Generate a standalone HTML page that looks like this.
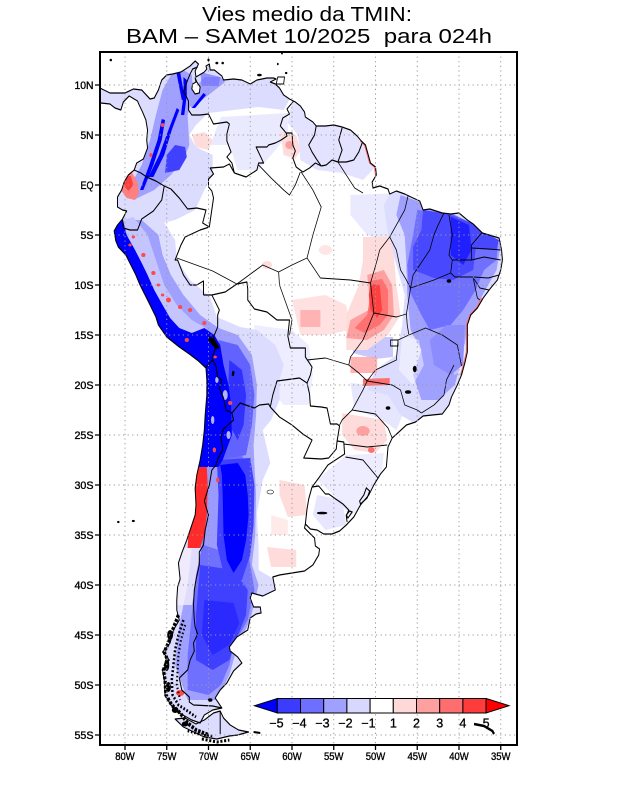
<!DOCTYPE html>
<html><head><meta charset="utf-8"><style>
html,body{margin:0;padding:0;background:#fff}
svg{display:block}
.b{fill:none;stroke:#000;stroke-width:0.12;stroke-linejoin:round}
.s{fill:none;stroke:#000;stroke-width:0.09;stroke-linejoin:round}
.ax{font-family:"Liberation Sans",sans-serif;font-size:11px;fill:#000;stroke:#000;stroke-width:0.35}
.cb{font-family:"Liberation Sans",sans-serif;font-size:12.5px;fill:#000;stroke:#000;stroke-width:0.3}
</style></head><body>
<svg xmlns="http://www.w3.org/2000/svg" width="618" height="800" viewBox="0 0 618 800">
<rect width="618" height="800" fill="#fff"/>
<text x="307" y="21" text-anchor="middle" font-family="Liberation Sans, sans-serif" font-size="20" textLength="210" lengthAdjust="spacingAndGlyphs">Vies medio da TMIN:</text>
<text x="309" y="43" text-anchor="middle" font-family="Liberation Sans, sans-serif" font-size="20" textLength="366" lengthAdjust="spacingAndGlyphs" xml:space="preserve">BAM – SAMet 10/2025  para 024h</text>
<defs>
<clipPath id="fr"><rect x="100" y="52" width="417" height="693"/></clipPath>
<clipPath id="land">
<polygon points="-84,9.6 -83,9.7 -81.8,9.2 -80,9.2 -79,9.6 -78,9.5 -77,8.6 -76.5,8.7 -76,9.5 -75.6,10.5 -75,11 -74.3,11.1 -73.3,11.3 -72.2,11.9 -71.6,12.4 -71.2,12.1 -71.6,11.4 -71.5,10.8 -71.1,11 -70.5,11.3 -70.2,11.6 -70.3,11.9 -69.9,12.1 -69.8,11.5 -69.3,11.5 -68.4,10.9 -68.2,10.5 -67,10.6 -66,10.5 -65,10.1 -64.2,10.5 -63,10.7 -62.2,10.7 -61.9,10.6 -62.6,10.3 -62,10.1 -61.5,9.7 -61,9 -60.3,8.6 -59.6,8.3 -59,7.9 -58.5,7.3 -58.4,6.8 -57.5,6.3 -57.1,5.9 -56,5.9 -55,6 -54,5.8 -53,5.5 -52.2,4.9 -51.7,4.4 -51.2,4 -51,3.4 -50.6,2.2 -50,1.8 -49.9,1 -50.4,0.3 -50.3,-0.3 -49.5,-0.1 -48.5,-0.4 -48.3,-0.9 -47.5,-0.6 -46.5,-0.9 -45.5,-1.3 -44.7,-1.6 -44.3,-2.5 -43.5,-2.4 -42,-2.8 -41,-2.9 -40,-2.8 -39,-3.5 -38.3,-3.9 -37.2,-4.8 -36,-5.1 -35.2,-5.3 -34.9,-6.5 -34.8,-7.5 -35,-8.5 -35.4,-9.5 -36.3,-10.4 -37.1,-11.3 -37.8,-12.3 -38.6,-13 -39,-14 -39,-15.5 -39,-16.7 -39.3,-17.8 -39.7,-19 -40.2,-20 -40.9,-21.2 -41.2,-22 -42,-22.9 -43.2,-23 -44.3,-23.1 -45.2,-23.7 -46.3,-24 -47.2,-24.7 -48,-25.3 -48.5,-26.2 -48.6,-27.2 -48.7,-28.2 -49.4,-28.9 -50.2,-30 -50.8,-31 -51.8,-32 -52.6,-33.2 -53.5,-34 -54.3,-34.6 -55.2,-34.9 -56.2,-34.9 -57,-34.5 -57.8,-34.4 -58.4,-33.9 -58.5,-34.3 -57.3,-35.3 -57.2,-36.1 -56.7,-36.4 -56.8,-37 -57.5,-38 -58.5,-38.6 -60,-38.8 -61.5,-39 -62.3,-39.2 -62,-40.5 -63.5,-41.1 -64.8,-40.8 -65,-41.3 -64.6,-42.2 -63.8,-42.2 -63.7,-42.8 -64.3,-42.9 -65,-43.3 -65.3,-44.5 -66.6,-45.2 -67.5,-46.2 -67.4,-46.6 -66.5,-47.2 -66,-47.8 -67,-48.6 -67.8,-49.8 -68.6,-50.5 -69.2,-51.3 -68.4,-52.3 -69.5,-52.5 -70.5,-53 -71,-53.8 -72,-53.5 -73.5,-52.8 -74.5,-52 -75.2,-51 -75.3,-49.5 -75.5,-48.5 -74.7,-47.5 -75.5,-46.7 -74.6,-45.8 -74.2,-44.5 -73.5,-43.5 -73.8,-42.5 -73.8,-41.5 -73.7,-40.2 -73.4,-39.4 -73.6,-37.8 -73.2,-36.8 -72.6,-35.5 -72,-34 -71.6,-33 -71.5,-32 -71.6,-30.3 -71.4,-29 -71,-27.5 -70.7,-26 -70.5,-24.5 -70.4,-23 -70.2,-21 -70.2,-19.5 -70.3,-18.3 -71.2,-17.6 -72.3,-16.9 -73.5,-16.2 -75,-15.2 -76,-14 -76.3,-13.2 -77,-12 -77.6,-11 -78.2,-10 -78.7,-9 -79.3,-8 -79.9,-7 -80.8,-6.2 -81.1,-5.6 -81.3,-4.6 -80.9,-4 -80.3,-3.4 -79.8,-2.6 -80.3,-2.5 -80.9,-2.2 -80.9,-1.2 -80.4,-0.5 -80.1,0.3 -79.6,1 -78.9,1.5 -78.6,2.2 -77.8,2.6 -77.3,3.7 -77.4,4.5 -77.3,5.5 -77.5,6.5 -77.9,7.3 -78.3,8 -78.5,8.4 -79.5,8.9 -80.2,8.3 -80.5,7.5 -81.2,7.7 -81.8,8.1 -82.9,8.2 -83.5,8.5 -84,9"/>
<polygon points="-68.6,-52.6 -68.2,-53.3 -67.4,-54 -66.4,-54.5 -65.2,-54.7 -66.5,-55 -67.5,-55.1 -69,-55.4 -70.5,-55.2 -71.5,-54.8 -73,-54.2 -74,-53.4 -72.8,-53.3 -71.5,-53.9 -70.5,-53.5 -69.4,-52.8"/>
</clipPath>
</defs>

<g clip-path="url(#fr)">
<g transform="matrix(8.35 0 0 -10 793 185)">
<g clip-path="url(#land)">
<polygon fill="#dcdcff" points="-85,12 -71,13 -62,11.5 -60,9 -61,7.5 -64,7.8 -67,7.5 -70,7.2 -71.5,6 -72.3,5 -71.5,3.8 -69.5,3 -69.5,1 -70.5,-0.5 -71.6,-2.5 -74,-3.5 -76.5,-4 -79,-3.5 -82,-3 -85,8"/>
<polygon fill="#dcdcff" opacity="0.6" points="-68.5,6.8 -60.5,7.2 -60.5,5 -62,3.5 -64,1.5 -66.5,1.5 -67.5,4 -69.8,4"/>
<polygon fill="#dcdcff" opacity="0.8" points="-60,8.5 -57,6.5 -54,6 -51.5,4.5 -50,1.8 -51.5,0.5 -54,1.2 -57,1.5 -59,2.5 -59.3,5 -60.5,6.2"/>
<polygon fill="#dcdcff" points="-82,-3 -78,-2.5 -75.5,-3.5 -74,-5.5 -73.8,-7.5 -72.2,-9.5 -69.8,-11.2 -69,-13.2 -66.2,-14.2 -64.2,-14.5 -62,-16 -61,-18 -61.5,-19.5 -61.5,-21.5 -62.5,-23.5 -63.5,-24.5 -62.6,-27.8 -63.5,-29.5 -64.2,-32.8 -64,-36.2 -64,-38.5 -62,-39.5 -62,-42 -63,-46 -65,-50 -64,-56 -80,-56 -80,-20"/>
<polygon fill="#dcdcff" opacity="0.5" points="-64.5,-14 -60,-14.5 -58,-16 -57.5,-19 -58,-22 -61,-22 -63,-20 -64.5,-17"/>
<polygon fill="#dcdcff" opacity="0.6" points="-53,-1 -47,-0.8 -44.3,-2 -44.3,-6.5 -48,-6 -51,-5 -53,-3"/>
<polygon fill="#dcdcff" points="-48,-0.5 -40,-2 -34,-5 -34,-8 -37,-12 -38.5,-15 -38.5,-18 -40,-20.5 -42,-23 -45,-24 -47,-23 -48.5,-21 -51,-20.5 -50,-18.5 -47.5,-17 -46.8,-14 -46.5,-11 -47.5,-8 -48.5,-5 -49,-2"/>
<polygon fill="#dcdcff" opacity="0.7" points="-53,-19.8 -48,-20.2 -46.5,-22.5 -47.5,-24.5 -49.5,-23.3 -52.5,-22.5"/>
<polygon fill="#dcdcff" opacity="0.5" points="-53.5,-27 -49,-26.8 -49.3,-29 -51,-31.5 -53,-33.2 -55,-31 -57,-29.5"/>
<polygon fill="#dcdcff" opacity="0.7" points="-57,-31 -54,-31.5 -53.5,-34 -56,-34.5 -57.5,-33"/>
<polygon fill="#c8c8ff" points="-52.7,-15.2 -47.9,-15.2 -47.9,-17.2 -50,-17.4 -52.7,-16.8"/>
<polygon fill="#ffdcdc" points="-72,5 -70.5,5.3 -69.5,4.5 -70,3.5 -71.5,3.8"/>
<polygon fill="#ffdcdc" points="-61.4,5.3 -59.5,5 -59,3.5 -59.6,2.6 -61,3"/>
<ellipse cx="-60.3" cy="4" rx="0.5" ry="0.4" fill="#ffa0a0"/>
<polygon fill="#ffdcdc" opacity="0.85" points="-60,-11.5 -56,-11 -53.5,-12 -53,-14.5 -56,-15 -59,-15"/>
<polygon fill="#ffa0a0" opacity="0.7" points="-59,-12.5 -56.6,-12.5 -56.6,-14.2 -59,-14.2"/>
<polygon fill="#ffdcdc" points="-51.5,-5.2 -48.3,-5.2 -47.8,-7 -47.5,-10 -47,-13 -48.5,-15 -51,-16.5 -53.5,-16.5 -53.5,-13 -52,-10 -51.5,-7.5"/>
<polygon fill="#ffa0a0" points="-51,-9 -49,-8.5 -48,-10 -47.8,-13 -49,-14.5 -51,-15.5 -53.5,-15.3 -53,-13.5 -50.8,-12.5 -50.8,-10.5"/>
<polygon fill="#ff7070" points="-50.7,-9.6 -49.2,-9.4 -48.5,-10.5 -48.5,-13 -49.5,-14 -51.3,-14.8 -52.5,-14.3 -51,-13 -50.6,-11"/>
<polygon fill="#ff4040" points="-50.6,-9.9 -49.5,-10 -49.2,-12.5 -49.8,-13.3 -50.6,-12.5 -50.8,-11"/>
<polygon fill="#ffa0a0" opacity="0.8" points="-53,-17.2 -49.8,-17.2 -49.8,-18.8 -53,-18.8"/>
<polygon fill="#ff7070" points="-51.5,-19.4 -48.3,-19.3 -48.3,-20 -51.5,-20.1"/>
<polygon fill="#ffdcdc" points="-54,-22.8 -49,-23.5 -48.6,-25.5 -50,-26.8 -52.5,-26.5 -54,-25"/>
<ellipse cx="-51.5" cy="-24.6" rx="0.8" ry="0.5" fill="#ffa0a0"/>
<ellipse cx="-50.5" cy="-26.5" rx="0.4" ry="0.3" fill="#ff7070"/>
<polygon fill="#ffdcdc" points="-61.5,-29.5 -58.5,-30 -58.2,-33 -60.5,-33.2 -61.5,-31"/>
<polygon fill="#ffdcdc" points="-63,-36.2 -59.5,-36.5 -59.5,-38.2 -62.5,-38.2"/>
<polygon fill="#ffdcdc" opacity="0.6" points="-62.5,-33 -60.5,-33.5 -60.5,-35 -62.5,-35"/>
<ellipse cx="-63" cy="-8" rx="0.6" ry="0.4" fill="#ffdcdc"/>
<ellipse cx="-56" cy="-6.5" rx="0.8" ry="0.5" fill="#ffdcdc" opacity="0.7"/>
<polygon fill="#a0a0ff" points="-79,-1.5 -76.5,-0.5 -74.5,1 -73,2.5 -72.3,4 -72.5,7 -71.8,9 -72,11 -73,11.5 -74.5,11 -75.5,9.5 -76.3,7 -77,4.5 -78,2 -79,0.5"/>
<polygon fill="#a0a0ff" points="-72,7.7 -70,9 -68,10.3 -68.6,10.8 -70.5,10.8 -71.8,9.5 -72.5,8.2"/>
<polygon fill="#7070ff" opacity="0.7" points="-71,11.3 -68.6,10.8 -68.8,9.9 -70.8,9.9"/>
<polygon fill="#a0a0ff" points="-80.5,-3.5 -78,-3.5 -76,-5 -75.5,-7 -74.5,-9 -73,-11 -71,-13 -68.8,-14.3 -66.5,-15 -64.8,-17 -64.2,-20 -64.3,-23 -64.6,-26 -64.5,-28 -64.3,-31 -64.4,-35 -64.8,-38 -64,-40 -65,-43.5 -66.5,-46 -67.5,-49 -69,-51.5 -72.5,-51.5 -74,-48 -73.5,-44 -72.5,-40 -72,-36.3 -71.5,-28 -71,-18 -78,-10"/>
<polygon fill="#a0a0ff" points="-47,-1 -42,-2.5 -37,-4.5 -35,-6 -35.5,-8.5 -37.5,-11.5 -39,-14 -39.5,-17 -40.5,-20 -42.5,-21.5 -44.5,-21.5 -45.5,-19 -44.5,-16.5 -45.8,-14.5 -46.2,-11 -46.3,-8 -46.5,-5 -47.5,-3"/>
<polygon fill="#ffffff" opacity="0.45" points="-46.8,-15 -44.8,-15.5 -44.2,-18 -45.5,-20 -47.2,-18.5"/>
<polygon fill="#ffffff" opacity="0.4" points="-40.5,-15.5 -39.2,-16 -39.5,-18.5 -40.6,-19"/>
<polygon fill="#f6f0fb" opacity="0.75" points="-75,-36.3 -70.9,-36.3 -71.3,-39 -72,-42 -75,-42"/>
<polygon fill="#c4c4ff" points="-80.3,-3.5 -79,-3.2 -77.3,-5 -76.3,-7.5 -75.3,-10 -73.8,-12 -72,-13.5 -70.3,-14.3 -70,-14.8 -71.5,-15.3 -73,-14.8 -74.6,-13.3 -75.5,-12 -76.5,-10.5 -77.3,-9 -78,-7.8 -78.8,-6.5 -79.8,-5"/>
<polygon fill="#7070ff" points="-45,-2.5 -41,-2.8 -38,-4 -35.3,-5.5 -35.5,-7.5 -37,-8.5 -38,-10.5 -39.5,-12.5 -41,-14 -43.5,-14.5 -44.5,-13 -46,-10.5 -46.2,-8 -45.5,-5"/>
<polygon fill="#8c8cff" points="-41.5,-14 -39.3,-14 -39.5,-18 -41,-19 -43,-18 -43.5,-15.5"/>
<polygon fill="#7070ff" points="-70.2,-28 -68.8,-27 -66,-27 -65,-29 -64.8,-33 -65.2,-37 -64.5,-40.5 -65.3,-43.5 -67,-46 -67.5,-48 -68.5,-50 -70,-51 -72.5,-50.5 -72.5,-47 -72,-43 -71.5,-39 -71,-37 -70.3,-34"/>
<polygon fill="#6262ff" points="-68.8,-15.5 -66.5,-16 -65,-18 -64.5,-21 -64.8,-24 -65.5,-27 -68.6,-27.5 -67.7,-25 -67.8,-22 -68.4,-20 -68.6,-18"/>
<polygon fill="#9a9aff" points="-70.3,-28 -68.7,-28 -68.5,-31 -68.3,-35 -68.8,-36.5 -70.6,-36 -70.2,-33 -70.1,-30"/>
<polygon fill="#4848ff" points="-44.3,-2.5 -41.3,-2.9 -38.5,-3.8 -36,-5.2 -35.2,-5.5 -35.5,-6.5 -38,-6.4 -38.3,-8.5 -40.7,-9.5 -43,-9.3 -45.5,-8.5 -45.5,-6.2 -44.5,-4.5"/>
<polygon fill="#4040ff" points="-71,-38 -67,-38.5 -65.3,-40.5 -65.5,-43 -66.7,-45.5 -67.5,-47.5 -69.5,-48.5 -71.5,-47.5 -71.5,-43 -71.2,-40"/>
<polygon fill="#3030ff" points="-67.5,-17.5 -66,-18.5 -65.5,-21 -65.8,-24 -66.5,-25.5 -67.5,-24 -67.6,-19.5"/>
<polygon fill="#4040ff" points="-69,-27.5 -65,-27.3 -64.5,-30 -64.6,-34 -65,-37 -66,-39.5 -68,-39.5 -69,-36 -68.8,-31"/>
<polygon fill="#4040ff" points="-75.2,1.2 -73.5,1.5 -72.6,2.8 -72.8,3.8 -74,4 -75,3"/>
<polygon fill="#0000ff" points="-82,-3.3 -80.3,-3.3 -79.8,-5 -78.8,-6.5 -78,-7.8 -77.3,-9 -76.5,-10.5 -75.5,-12 -74.6,-13.3 -73.5,-14.3 -72,-14.8 -70.5,-14.3 -69.3,-15 -68.6,-16 -68.2,-18 -67.6,-20 -67.3,-22 -67.2,-25 -68.3,-27.5 -68.8,-28.2 -71.5,-28.2 -71.5,-20 -72,-18 -74,-17 -77,-13 -80,-8 -82,-6"/>
<polygon fill="#0000ff" points="-68.6,-28 -66.5,-27.8 -65.6,-29 -65.3,-31 -65.2,-33 -65.5,-35.5 -66,-37.5 -67,-38.8 -67.8,-37.5 -68.2,-35 -68.3,-31 -68.4,-29"/>
<polygon fill="#2a2aff" points="-70.5,-41.5 -67,-41.8 -66.3,-43.8 -67.5,-46 -69.5,-47 -70.8,-45"/>
<polygon fill="#2020ff" points="-41,-3.2 -38.8,-4 -38.5,-6.5 -39.5,-8 -41,-7"/>
<polygon fill="#0000ff" points="-78.2,-0.5 -77.8,-0.5 -76.6,2 -75.6,4.5 -75.2,6.5 -75.6,6.6 -76.1,4.5 -77.1,2"/>
<polygon fill="#0000ff" points="-77.2,0.8 -76.6,0.8 -75.3,3 -74.4,5.5 -73.5,7.5 -73.8,7.7 -74.8,5.5 -75.9,3"/>
<polygon fill="#0000ff" points="-73.3,7 -72.9,7 -72.6,9 -72.6,10.5 -73,10.8 -73,9"/>
<polygon fill="#0000ff" points="-73.9,11.5 -73.4,11.3 -72.8,8.5 -73.2,8.5"/>
<polygon fill="#0000ff" points="-72,7.7 -71.6,7.7 -70.3,9 -70.6,9.2"/>
<g fill="#ffffff" opacity="0.7">
<ellipse cx="-68" cy="-21" rx="0.3" ry="0.5"/><ellipse cx="-69.5" cy="-23.5" rx="0.2" ry="0.4"/>
<ellipse cx="-67.6" cy="-25" rx="0.25" ry="0.4"/><ellipse cx="-69" cy="-19.5" rx="0.2" ry="0.3"/>
</g>
<polygon fill="#ff2a2a" points="-72,-28.2 -70.2,-28.2 -70.1,-30 -70.2,-33 -70.5,-35 -71,-36.3 -72.5,-36.3"/>
<polygon fill="#ff8080" points="-80.5,1.3 -79.2,1.3 -78.5,0.3 -78.3,-0.8 -78.8,-1.5 -79.8,-1.3 -80.5,-0.5"/>
<polygon fill="#ff4040" points="-80.2,0.9 -79.3,0.9 -79,0 -79.6,-0.6 -80.2,0"/>
<g fill="#ff4848">
<ellipse cx="-79" cy="-5.2" rx="0.2" ry="0.15"/><ellipse cx="-79.4" cy="-6" rx="0.2" ry="0.15"/>
<ellipse cx="-77.8" cy="-7" rx="0.25" ry="0.2"/><ellipse cx="-76.6" cy="-8.8" rx="0.25" ry="0.2"/>
<ellipse cx="-74.8" cy="-11.5" rx="0.3" ry="0.25"/><ellipse cx="-73.4" cy="-12.2" rx="0.25" ry="0.2"/>
<ellipse cx="-72.2" cy="-12.5" rx="0.25" ry="0.2"/><ellipse cx="-72.6" cy="-15.5" rx="0.25" ry="0.2"/>
<ellipse cx="-69.2" cy="-17.2" rx="0.2" ry="0.15"/><ellipse cx="-67.4" cy="-21.8" rx="0.25" ry="0.2"/>
<ellipse cx="-76" cy="-10" rx="0.2" ry="0.15"/><ellipse cx="-75.5" cy="-11" rx="0.2" ry="0.15"/>
<ellipse cx="-70.5" cy="-13.8" rx="0.25" ry="0.2"/><ellipse cx="-69.3" cy="-26.5" rx="0.2" ry="0.25"/>
<ellipse cx="-68.9" cy="-29.5" rx="0.2" ry="0.25"/><ellipse cx="-73.4" cy="-50.8" rx="0.5" ry="0.3"/>
<ellipse cx="-76.9" cy="3" rx="0.2" ry="0.2"/><ellipse cx="-75.5" cy="6" rx="0.2" ry="0.2"/>
</g>
<polyline fill="none" stroke="#ff7070" stroke-width="0.15" points="-37.3,-11.3 -37.9,-12.3 -38.7,-13 -39.1,-14 -39.1,-16.7 -39.4,-17.8 -39.8,-19"/>
<polyline fill="none" stroke="#ff7070" stroke-width="0.15" points="-51.8,4.4 -51.3,4 -51.1,3.4 -50.7,2.2 -50.1,1.8 -50,1"/>
</g>

<g class="b">
<polygon points="-84,9.6 -83,9.7 -81.8,9.2 -80,9.2 -79,9.6 -78,9.5 -77,8.6 -76.5,8.7 -76,9.5 -75.6,10.5 -75,11 -74.3,11.1 -73.3,11.3 -72.2,11.9 -71.6,12.4 -71.2,12.1 -71.6,11.4 -71.5,10.8 -71.1,11 -70.5,11.3 -70.2,11.6 -70.3,11.9 -69.9,12.1 -69.8,11.5 -69.3,11.5 -68.4,10.9 -68.2,10.5 -67,10.6 -66,10.5 -65,10.1 -64.2,10.5 -63,10.7 -62.2,10.7 -61.9,10.6 -62.6,10.3 -62,10.1 -61.5,9.7 -61,9 -60.3,8.6 -59.6,8.3 -59,7.9 -58.5,7.3 -58.4,6.8 -57.5,6.3 -57.1,5.9 -56,5.9 -55,6 -54,5.8 -53,5.5 -52.2,4.9 -51.7,4.4 -51.2,4 -51,3.4 -50.6,2.2 -50,1.8 -49.9,1 -50.4,0.3 -50.3,-0.3 -49.5,-0.1 -48.5,-0.4 -48.3,-0.9 -47.5,-0.6 -46.5,-0.9 -45.5,-1.3 -44.7,-1.6 -44.3,-2.5 -43.5,-2.4 -42,-2.8 -41,-2.9 -40,-2.8 -39,-3.5 -38.3,-3.9 -37.2,-4.8 -36,-5.1 -35.2,-5.3 -34.9,-6.5 -34.8,-7.5 -35,-8.5 -35.4,-9.5 -36.3,-10.4 -37.1,-11.3 -37.8,-12.3 -38.6,-13 -39,-14 -39,-15.5 -39,-16.7 -39.3,-17.8 -39.7,-19 -40.2,-20 -40.9,-21.2 -41.2,-22 -42,-22.9 -43.2,-23 -44.3,-23.1 -45.2,-23.7 -46.3,-24 -47.2,-24.7 -48,-25.3 -48.5,-26.2 -48.6,-27.2 -48.7,-28.2 -49.4,-28.9 -50.2,-30 -50.8,-31 -51.8,-32 -52.6,-33.2 -53.5,-34 -54.3,-34.6 -55.2,-34.9 -56.2,-34.9 -57,-34.5 -57.8,-34.4 -58.4,-33.9 -58.5,-34.3 -57.3,-35.3 -57.2,-36.1 -56.7,-36.4 -56.8,-37 -57.5,-38 -58.5,-38.6 -60,-38.8 -61.5,-39 -62.3,-39.2 -62,-40.5 -63.5,-41.1 -64.8,-40.8 -65,-41.3 -64.6,-42.2 -63.8,-42.2 -63.7,-42.8 -64.3,-42.9 -65,-43.3 -65.3,-44.5 -66.6,-45.2 -67.5,-46.2 -67.4,-46.6 -66.5,-47.2 -66,-47.8 -67,-48.6 -67.8,-49.8 -68.6,-50.5 -69.2,-51.3 -68.4,-52.3 -69.5,-52.5 -70.5,-53 -71,-53.8 -72,-53.5 -73.5,-52.8 -74.5,-52 -75.2,-51 -75.3,-49.5 -75.5,-48.5 -74.7,-47.5 -75.5,-46.7 -74.6,-45.8 -74.2,-44.5 -73.5,-43.5 -73.8,-42.5 -73.8,-41.5 -73.7,-40.2 -73.4,-39.4 -73.6,-37.8 -73.2,-36.8 -72.6,-35.5 -72,-34 -71.6,-33 -71.5,-32 -71.6,-30.3 -71.4,-29 -71,-27.5 -70.7,-26 -70.5,-24.5 -70.4,-23 -70.2,-21 -70.2,-19.5 -70.3,-18.3 -71.2,-17.6 -72.3,-16.9 -73.5,-16.2 -75,-15.2 -76,-14 -76.3,-13.2 -77,-12 -77.6,-11 -78.2,-10 -78.7,-9 -79.3,-8 -79.9,-7 -80.8,-6.2 -81.1,-5.6 -81.3,-4.6 -80.9,-4 -80.3,-3.4 -79.8,-2.6 -80.3,-2.5 -80.9,-2.2 -80.9,-1.2 -80.4,-0.5 -80.1,0.3 -79.6,1 -78.9,1.5 -78.6,2.2 -77.8,2.6 -77.3,3.7 -77.4,4.5 -77.3,5.5 -77.5,6.5 -77.9,7.3 -78.3,8 -78.5,8.4 -79.5,8.9 -80.2,8.3 -80.5,7.5 -81.2,7.7 -81.8,8.1 -82.9,8.2 -83.5,8.5 -84,9"/>
<polygon points="-68.6,-52.6 -68.2,-53.3 -67.4,-54 -66.4,-54.5 -65.2,-54.7 -66.5,-55 -67.5,-55.1 -69,-55.4 -70.5,-55.2 -71.5,-54.8 -73,-54.2 -74,-53.4 -72.8,-53.3 -71.5,-53.9 -70.5,-53.5 -69.4,-52.8"/>
<polygon fill="#fff" points="-71.6,10.7 -71.5,10.3 -71.9,10.1 -72,9.6 -71.6,9.1 -71.1,9.2 -71,9.8 -71.4,10.3"/>
</g>
<!-- fjord texture -->
<g fill="none" stroke="#000">
<polyline stroke-width="0.4" stroke-dasharray="0.3 0.15" points="-73.6,-43 -74.3,-44.5 -74.8,-45.8 -75.3,-46.7 -74.9,-47.5 -75.4,-48.5 -75.2,-49.5 -75.1,-51 -74.4,-52 -73.4,-52.8 -72.5,-53.8 -71.5,-54.5 -70,-55"/>
<polyline stroke-width="0.3" stroke-dasharray="0.2 0.2" points="-73,-43.5 -73.6,-45 -74,-46.5 -74.2,-48 -74.4,-49.5 -74.3,-51 -73.6,-52 -72.5,-52.6 -71.5,-53.2"/>
<polyline stroke-width="0.25" stroke-dasharray="0.15 0.25" points="-72.8,-44 -73.3,-45.5 -73.6,-47 -73.7,-48.5 -73.8,-50 -73.4,-51.5"/>
<polyline stroke-width="0.3" stroke-dasharray="0.25 0.2" points="-70.8,-55.4 -69,-55.7 -67.5,-55.5"/>
<polyline stroke-width="0.25" stroke-dasharray="0.2 0.2" points="-72.5,-54.6 -70.8,-55 -69.5,-55.1"/>
</g>
<g fill="#000">
<ellipse cx="-74.6" cy="-45" rx="0.35" ry="0.5"/>
<ellipse cx="-75" cy="-48" rx="0.3" ry="0.6"/>
<ellipse cx="-74.8" cy="-50.2" rx="0.3" ry="0.5"/>
<ellipse cx="-74" cy="-52.5" rx="0.4" ry="0.3"/>
<ellipse cx="-72.8" cy="-53.9" rx="0.4" ry="0.25"/>
</g>
<g fill="#000" stroke="#000" stroke-width="0.06">
<polygon points="-69.9,-15.2 -69.3,-15.4 -68.7,-16.3 -69.1,-16.4 -69.6,-15.9 -70,-15.5"/>
<polygon points="-67.1,-18.6 -66.9,-18.7 -67,-19.1 -67.2,-19"/>
<polygon fill="none" stroke-width="0.12" points="-51.1,-30.3 -50.7,-30.6 -51,-31.3 -51.8,-31.9 -51.9,-31.6 -51.4,-31"/>
<polygon fill="none" stroke-width="0.12" points="-53.1,-32.6 -52.8,-32.7 -53.3,-33.3 -53.5,-33"/>
<ellipse cx="-45.3" cy="-18.4" rx="0.2" ry="0.3"/>
<ellipse cx="-46.1" cy="-20.7" rx="0.35" ry="0.15"/>
<ellipse cx="-48.5" cy="-22.3" rx="0.25" ry="0.15"/>
<ellipse cx="-41.2" cy="-9.6" rx="0.25" ry="0.15"/>
<ellipse cx="-56.4" cy="-32.8" rx="0.6" ry="0.1"/>
<ellipse cx="-69.8" cy="-51.5" rx="0.25" ry="0.15"/>
<ellipse cx="-81.7" cy="12.5" rx="0.12" ry="0.1"/>
<ellipse cx="-70" cy="12.5" rx="0.1" ry="0.12"/>
<ellipse cx="-69" cy="12.2" rx="0.15" ry="0.1"/>
<ellipse cx="-68.3" cy="12.2" rx="0.12" ry="0.1"/>
<ellipse cx="-63.9" cy="11" rx="0.25" ry="0.1"/>
<ellipse cx="-60.7" cy="11.2" rx="0.12" ry="0.08"/>
<ellipse cx="-61.7" cy="12.1" rx="0.08" ry="0.1"/>
<ellipse cx="-61.2" cy="13.2" rx="0.08" ry="0.12"/>
<ellipse cx="-79" cy="-33.6" rx="0.15" ry="0.08"/>
<ellipse cx="-80.8" cy="-33.7" rx="0.12" ry="0.08"/>
<ellipse cx="-62.6" cy="-30.7" rx="0.4" ry="0.2" fill="none"/>
</g>
<polygon fill="#fff" stroke="#000" stroke-width="0.1" points="-61.7,10.8 -60.9,10.8 -61,10.1 -61.9,10.1"/>
<polyline fill="none" stroke="#000" stroke-width="0.25" points="-38.2,-53.9 -37,-54.1 -36,-54.6 -35.8,-54.9"/>
<polyline fill="none" stroke="#000" stroke-width="0.2" points="-64.6,-54.7 -63.8,-54.8"/>
<g class="b">
<polyline points="-71.3,11.8 -71.9,11.6 -72.2,11.1 -72.5,10.5 -73,9.3 -72.8,9.1 -72.4,8.4 -72.4,7.5 -72,7 -71,7 -70,7.1 -69.4,6.1 -67.8,6.3 -67.5,6.1 -67.8,5.1 -67.8,4.4 -67.3,3.3 -67.8,2.8 -67.2,2.2 -66.9,1.2"/>
<polyline points="-66.9,1.2 -65.5,0.8 -64.2,1.5 -64,2.2 -63.4,2.2 -64.3,3.8 -63,3.8 -62.8,4 -62,4.2 -61.3,4.5 -60.6,4.9 -60.7,5.2"/>
<polyline points="-60.7,5.2 -61.4,5.9 -61.1,6.7 -60.3,7.1 -60.6,7.6 -59.8,8.4"/>
<polyline points="-60.7,5.2 -60,5.2 -59.9,4 -59.6,3.4 -59.9,2.7 -59.5,1.8 -58.7,1.3 -57.9,1.7 -57.2,2.2 -56.5,1.9"/>
<polyline points="-57.1,5.9 -57.3,5 -58,4 -57.6,3.3 -57,2.5 -56.5,1.9"/>
<polyline points="-56.5,1.9 -55.9,2 -55.2,2.5 -54.5,2.3"/>
<polyline points="-54,5.7 -54.4,4.5 -54,3.5 -54.5,2.3"/>
<polyline points="-54.5,2.3 -53.5,2.3 -52.6,2.5 -52,3.3 -51.6,4.2"/>
<polyline points="-66.9,1.2 -67.5,2.1 -68.2,1.8 -69.8,1.7 -69.4,1.1 -70,0.6 -70,-0.2 -69.6,-0.6 -69.4,-1.3 -69.9,-4.2"/>
<polyline points="-69.9,-4.2 -70.7,-3.8 -70.3,-2.5 -71.4,-2.3 -72.5,-2.4 -73.5,-1.3 -74.5,-0.4 -75.3,-0.1"/>
<polyline points="-75.3,-0.1 -76.3,0.4 -77.4,0.8 -78.1,1.2 -78.9,1.5"/>
<polyline points="-75.3,-0.1 -75.6,-1.5 -76.6,-2.6 -78,-3.4 -78.5,-4.5 -79.4,-4.5 -80.2,-4.3 -80.3,-3.4"/>
<polyline points="-69.9,-4.2 -71,-4.5 -72.8,-5.2 -73.3,-6 -74,-7.5 -73.7,-7.5 -73,-9 -72.2,-10 -71.4,-10 -70.6,-9.6 -70.6,-11"/>
<polyline points="-70.6,-11 -69.6,-11 -68.7,-12.5 -68.9,-13 -68.9,-14.2 -69.4,-15.2 -69.1,-16.2 -69.6,-17.3 -69.5,-17.5"/>
<polyline points="-70.4,-18.3 -69.5,-17.5"/>
<polyline points="-69.5,-17.5 -69.1,-18.1 -68.9,-19.2 -68.4,-19.5 -68.7,-20.3 -68.2,-21.3 -67.9,-22.5 -67.2,-22.8"/>
<polyline points="-67.2,-22.8 -66.2,-21.8 -65.2,-22.1 -64.5,-22.3 -63.9,-22 -62.8,-21.9 -62.6,-22.2"/>
<polyline points="-62.6,-22.2 -62.3,-21 -61.8,-19.6 -59.1,-19.3 -58.2,-19.8"/>
<polyline points="-58.2,-19.8 -57.8,-19 -57.6,-18.2 -58.4,-17.2 -58.4,-16.3 -60.2,-16.3 -60.5,-15.1 -60.3,-13.5 -61.8,-13.5 -63,-12.7 -64.5,-12.4 -65.3,-11.5 -65.3,-10.4 -65.4,-9.7 -66.6,-9.9 -68,-10.7 -69.6,-11"/>
<polyline points="-58.2,-19.8 -57.9,-20.9 -57.8,-22.1 -56.5,-22.2 -55.8,-22.3 -55.4,-23.9 -54.6,-23.9 -54.3,-24.1 -54.6,-25.6"/>
<polyline points="-62.6,-22.2 -61.5,-23.2 -60,-24 -58.7,-24.9 -57.6,-25.5 -58.6,-27.3 -56.5,-27.4 -55.6,-27.3 -54.7,-26.4 -54.6,-25.6"/>
<polyline points="-54.6,-25.6 -53.8,-25.7 -53.7,-26.9 -55.7,-28 -56.8,-29.3 -57.6,-30.2"/>
<polyline points="-57.6,-30.2 -58,-31.4 -58.2,-32.4 -58.4,-33.9"/>
<polyline points="-57.6,-30.2 -56.8,-30.1 -56,-30.9 -55.6,-30.9 -54.6,-31.5 -53.9,-31.9 -53.2,-32.5 -53.5,-33.1 -53.4,-33.7"/>
<polyline points="-67.2,-22.8 -67,-23.5 -68.2,-24.4 -68.5,-25.2 -68.3,-26.5 -68.8,-27.2 -69.1,-28 -69.6,-28.5 -69.9,-30 -70.5,-31.6 -70,-33 -70.4,-34.5 -70.6,-36 -71.1,-36.7 -71.1,-38 -71.5,-39.5 -71.7,-40.5 -71.8,-42 -71.7,-43.5 -71.6,-44.2 -71.3,-44.9 -71.8,-45.8 -71.7,-46.6 -72.2,-47.5 -72.5,-48.5 -73.5,-49.3 -73.2,-50.5 -72.3,-51.2 -72.3,-51.7 -71.8,-52 -69.5,-52.1 -68.4,-52.3"/>
<polyline points="-68.6,-52.6 -68.6,-54.9"/>
</g>
<g class="s">
<polyline points="-64,2 -62.5,0.7 -61,-0.5 -60.3,-1 -59.6,0 -59,1.3"/>
<polyline points="-58.9,1.3 -57.5,-0.5 -56.5,-2.2 -57.5,-5 -58.2,-7.3"/>
<polyline points="-58.2,-7.3 -60,-8 -61.6,-8.7 -63.5,-8 -66.6,-9.9"/>
<polyline points="-73.8,-7.3 -69.5,-8.6 -66.6,-9.9"/>
<polyline points="-61.6,-8.7 -61.5,-10 -60,-13.5 -60.3,-15"/>
<polyline points="-58.2,-7.3 -56.6,-9.3 -53,-9.5 -50.6,-9.8"/>
<polyline points="-54.5,2.3 -53.5,1 -52.5,-0.3 -51.5,-0.8"/>
<polyline points="-50.6,-9.8 -49.8,-7.5 -49.5,-6.5 -48.3,-5.2 -47.5,-4 -46.5,-2.5 -46.1,-1.1"/>
<polyline points="-48.3,-5.2 -47.5,-6.5 -47,-8.5 -46.3,-9.5 -45.8,-10.3"/>
<polyline points="-41.8,-2.8 -42.5,-4 -43,-5 -43.5,-6.5 -45.5,-9 -45.8,-10.3"/>
<polyline points="-41.2,-3 -40.8,-5 -41.2,-7 -40.8,-7.5"/>
<polyline points="-37.3,-4.8 -38.5,-6 -38.5,-7.5"/>
<polyline points="-38.5,-6.3 -36.5,-6.4 -35,-6.5"/>
<polyline points="-40.8,-7.5 -38.5,-7.5 -37,-7.2 -35,-7.5"/>
<polyline points="-45.8,-10.3 -43,-9.5 -41,-8.8 -40.5,-9.2 -38.3,-9.2"/>
<polyline points="-41,-8.8 -40.8,-7.5"/>
<polyline points="-38.2,-9.2 -36.5,-9.3 -35.2,-9"/>
<polyline points="-38.2,-9.4 -37.5,-10.3 -36.4,-10.5"/>
<polyline points="-38.3,-9.3 -37.8,-11.3 -37.5,-11.5"/>
<polyline points="-50.6,-9.8 -50.2,-12.8"/>
<polyline points="-50.2,-12.8 -47.5,-13.2 -46.3,-12.9 -45.8,-10.3"/>
<polyline points="-46.3,-12.9 -46.2,-14 -46,-15"/>
<polyline points="-50.2,-12.8 -51.5,-15.5 -53,-17.2 -53.2,-18"/>
<polyline points="-58.2,-17.5 -56,-17.3 -53.2,-18 -52,-18.8 -51,-19.6"/>
<polyline points="-51,-19.6 -51.5,-20.5 -52.8,-22.5 -54,-23.5 -54.3,-24"/>
<polyline points="-51,-19.6 -48,-20 -47,-20.5 -46.5,-22 -45,-22.5 -44.5,-22.8"/>
<polyline points="-52.8,-22.5 -50,-22.9 -48.5,-24.3 -48,-25.3"/>
<polyline points="-53.8,-25.9 -51,-26.2 -48.6,-26"/>
<polyline points="-53.6,-27.2 -51.5,-27.5 -49.7,-29.3"/>
<polyline points="-51,-19.6 -50,-18.5 -47.5,-17.5 -47.3,-15.5 -46,-15"/>
<polyline points="-46,-15 -44,-14.3 -42,-15 -40.2,-16 -39.7,-18.1"/>
<polyline points="-40.6,-18 -41.5,-19.5 -41.8,-21"/>
<polyline points="-41.8,-21 -43,-22 -44.5,-22.8"/>
<polygon points="-48.2,-15.5 -47.3,-15.5 -47.3,-16.1 -48.2,-16.1"/>
</g>
</g>
</g>

<g stroke="#9a9a9a" stroke-width="1" stroke-dasharray="1.2 3.4" fill="none">
<path d="M125 52V745M166.75 52V745M208.5 52V745M250.25 52V745M292 52V745M333.75 52V745M375.5 52V745M417.25 52V745M459 52V745M500.75 52V745"/>
<path d="M100 85H517M100 135H517M100 185H517M100 235H517M100 285H517M100 335H517M100 385H517M100 435H517M100 485H517M100 535H517M100 585H517M100 635H517M100 685H517M100 735H517"/>
</g>

<rect x="100" y="52" width="417" height="693" fill="none" stroke="#000" stroke-width="2"/>
<path d="M125 745V750M166.75 745V750M208.5 745V750M250.25 745V750M292 745V750M333.75 745V750M375.5 745V750M417.25 745V750M459 745V750M500.75 745V750M95 85H100M95 135H100M95 185H100M95 235H100M95 285H100M95 335H100M95 385H100M95 435H100M95 485H100M95 535H100M95 585H100M95 635H100M95 685H100M95 735H100" stroke="#000" stroke-width="1.3"/>

<g class="ax" text-anchor="middle">
<text x="125" y="760" textLength="19.5" lengthAdjust="spacingAndGlyphs">80W</text>
<text x="166.75" y="760" textLength="19.5" lengthAdjust="spacingAndGlyphs">75W</text>
<text x="208.5" y="760" textLength="19.5" lengthAdjust="spacingAndGlyphs">70W</text>
<text x="250.25" y="760" textLength="19.5" lengthAdjust="spacingAndGlyphs">65W</text>
<text x="292" y="760" textLength="19.5" lengthAdjust="spacingAndGlyphs">60W</text>
<text x="333.75" y="760" textLength="19.5" lengthAdjust="spacingAndGlyphs">55W</text>
<text x="375.5" y="760" textLength="19.5" lengthAdjust="spacingAndGlyphs">50W</text>
<text x="417.25" y="760" textLength="19.5" lengthAdjust="spacingAndGlyphs">45W</text>
<text x="459" y="760" textLength="19.5" lengthAdjust="spacingAndGlyphs">40W</text>
<text x="500.75" y="760" textLength="19.5" lengthAdjust="spacingAndGlyphs">35W</text>
</g>
<g class="ax" text-anchor="end">
<text x="93.5" y="89" textLength="19" lengthAdjust="spacingAndGlyphs">10N</text>
<text x="93.5" y="139" textLength="13" lengthAdjust="spacingAndGlyphs">5N</text>
<text x="93.5" y="189" textLength="13" lengthAdjust="spacingAndGlyphs">EQ</text>
<text x="93.5" y="239" textLength="13" lengthAdjust="spacingAndGlyphs">5S</text>
<text x="93.5" y="289" textLength="19" lengthAdjust="spacingAndGlyphs">10S</text>
<text x="93.5" y="339" textLength="19" lengthAdjust="spacingAndGlyphs">15S</text>
<text x="93.5" y="389" textLength="19" lengthAdjust="spacingAndGlyphs">20S</text>
<text x="93.5" y="439" textLength="19" lengthAdjust="spacingAndGlyphs">25S</text>
<text x="93.5" y="489" textLength="19" lengthAdjust="spacingAndGlyphs">30S</text>
<text x="93.5" y="539" textLength="19" lengthAdjust="spacingAndGlyphs">35S</text>
<text x="93.5" y="589" textLength="19" lengthAdjust="spacingAndGlyphs">40S</text>
<text x="93.5" y="639" textLength="19" lengthAdjust="spacingAndGlyphs">45S</text>
<text x="93.5" y="689" textLength="19" lengthAdjust="spacingAndGlyphs">50S</text>
<text x="93.5" y="739" textLength="19" lengthAdjust="spacingAndGlyphs">55S</text>
</g>

<g stroke="#000" stroke-width="1">
<polygon points="254.5,705.7 277.3,698.5 277.3,713" fill="#0000ff"/>
<rect x="277.3" y="698.5" width="23.2" height="14.5" fill="#3c3cff"/>
<rect x="300.5" y="698.5" width="23.2" height="14.5" fill="#6e6eff"/>
<rect x="323.7" y="698.5" width="23.2" height="14.5" fill="#a0a0ff"/>
<rect x="346.9" y="698.5" width="23.2" height="14.5" fill="#d8d8ff"/>
<rect x="370.1" y="698.5" width="23.2" height="14.5" fill="#ffffff"/>
<rect x="393.3" y="698.5" width="23.2" height="14.5" fill="#ffd8d8"/>
<rect x="416.5" y="698.5" width="23.2" height="14.5" fill="#ffa0a0"/>
<rect x="439.7" y="698.5" width="23.2" height="14.5" fill="#ff6e6e"/>
<rect x="462.9" y="698.5" width="23.2" height="14.5" fill="#ff3c3c"/>
<polygon points="486.1,698.5 509,705.7 486.1,713" fill="#ff0000"/>
</g>
<g class="cb" text-anchor="middle">
<text x="276.5" y="727.5">−5</text>
<text x="299.5" y="727.5">−4</text>
<text x="322.5" y="727.5">−3</text>
<text x="345.5" y="727.5">−2</text>
<text x="368.5" y="727.5">−1</text>
<text x="393.3" y="727.5">1</text>
<text x="416.5" y="727.5">2</text>
<text x="439.7" y="727.5">3</text>
<text x="462.9" y="727.5">4</text>
<text x="486.1" y="727.5">5</text>
</g>
</svg>
</body></html>
